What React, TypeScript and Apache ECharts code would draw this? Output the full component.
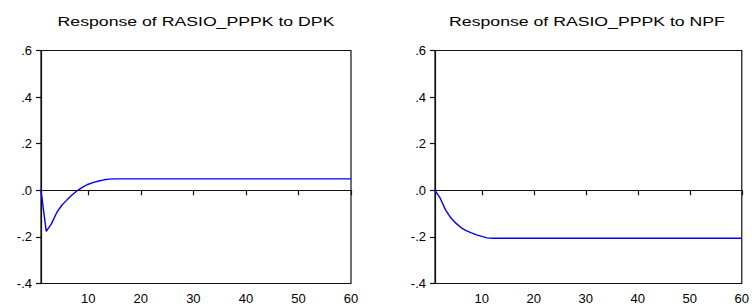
import React, { useEffect, useRef } from "react";
import * as echarts from "echarts";

const periods = [
  "1", "2", "3", "4", "5", "6", "7", "8", "9", "10",
  "11", "12", "13", "14", "15", "16", "17", "18", "19", "20",
  "21", "22", "23", "24", "25", "26", "27", "28", "29", "30",
  "31", "32", "33", "34", "35", "36", "37", "38", "39", "40",
  "41", "42", "43", "44", "45", "46", "47", "48", "49", "50",
  "51", "52", "53", "54", "55", "56", "57", "58", "59", "60",
];

const responseToDPK = [
  0.0, -0.176, -0.143, -0.095, -0.063, -0.04, -0.018, 0.0, 0.015, 0.026,
  0.034, 0.04, 0.045, 0.048, 0.049, 0.049, 0.049, 0.049, 0.049, 0.049,
  0.049, 0.049, 0.049, 0.049, 0.049, 0.049, 0.049, 0.049, 0.049, 0.049,
  0.049, 0.049, 0.049, 0.049, 0.049, 0.049, 0.049, 0.049, 0.049, 0.049,
  0.049, 0.049, 0.049, 0.049, 0.049, 0.049, 0.049, 0.049, 0.049, 0.049,
  0.049, 0.049, 0.049, 0.049, 0.049, 0.049, 0.049, 0.049, 0.049, 0.049,
];

const responseToNPF = [
  0.0, -0.034, -0.083, -0.117, -0.141, -0.16, -0.173, -0.183, -0.191, -0.198,
  -0.204, -0.206, -0.206, -0.206, -0.206, -0.206, -0.206, -0.206, -0.206, -0.206,
  -0.206, -0.206, -0.206, -0.206, -0.206, -0.206, -0.206, -0.206, -0.206, -0.206,
  -0.206, -0.206, -0.206, -0.206, -0.206, -0.206, -0.206, -0.206, -0.206, -0.206,
  -0.206, -0.206, -0.206, -0.206, -0.206, -0.206, -0.206, -0.206, -0.206, -0.206,
  -0.206, -0.206, -0.206, -0.206, -0.206, -0.206, -0.206, -0.206, -0.206, -0.206,
];

const panelTitles = ["Response of RASIO_PPPK to DPK", "Response of RASIO_PPPK to NPF"];
const yMin = -0.4;
const yMax = 0.6;
const yStep = 0.2;
const xLabelStep = 10;

const FONT = "'Liberation Sans', Arial, sans-serif";

function fmtY(v: number): string {
  const s = Math.abs(v).toFixed(1).replace(/^0/, "");
  return (v < -1e-9 ? "-" : "") + s;
}

export default function App() {
  const ref = useRef<HTMLDivElement>(null);
  useEffect(() => {
    if (!ref.current) return;
    const chart = echarts.init(ref.current, null, { renderer: "svg" });
    const grids = [
      { left: 41, right: 401, top: 50.5, bottom: 23.5 },
      { left: 435, right: 8, top: 50.5, bottom: 23.5 },
    ];
    const seriesData = [responseToDPK, responseToNPF];
    const titleCenters = [196, 587];
    chart.setOption({
      animation: false,
      backgroundColor: "#fff",
      grid: grids.map((g) => ({
        ...g,
        show: true,
        borderColor: "#111",
        borderWidth: 1.2,
        backgroundColor: "transparent",
        containLabel: false,
      })),
      xAxis: grids.map((_, i) => ({
        type: "category",
        gridIndex: i,
        data: periods,
        boundaryGap: false,
        axisLine: { show: true, lineStyle: { color: "#111", width: 1.2 } },
        axisTick: {
          show: true,
          inside: false,
          length: 5,
          interval: (idx: number, val: string) => Number(val) % xLabelStep === 0,
          lineStyle: { color: "#111", width: 1.2 },
        },
        axisLabel: {
          show: true,
          interval: (idx: number, val: string) => Number(val) % xLabelStep === 0,
          margin: 8,
          color: "#000",
          fontSize: 13,
          fontFamily: FONT,
        },
        splitLine: { show: false },
      })),
      yAxis: grids.map((_, i) => ({
        type: "value",
        gridIndex: i,
        min: yMin,
        max: yMax,
        interval: yStep,
        axisLine: { show: true, lineStyle: { color: "#111", width: 1.2 } },
        axisTick: { show: true, inside: false, length: 5, lineStyle: { color: "#111", width: 1.2 } },
        axisLabel: {
          show: true,
          margin: 9,
          color: "#000",
          fontSize: 13,
          fontFamily: FONT,
          formatter: (v: number) => fmtY(v),
        },
        splitLine: { show: false },
      })),
      series: seriesData.map((d, i) => ({
        type: "line",
        xAxisIndex: i,
        yAxisIndex: i,
        data: d,
        showSymbol: false,
        symbol: "none",
        lineStyle: { color: "#0000ff", width: 1.4 },
        z: 3,
        markLine: {
          silent: true,
          symbol: "none",
          label: { show: false },
          lineStyle: { color: "#111", width: 1.2, type: "solid" },
          data: [{ yAxis: 0 }],
          z: 2,
        },
      })),
      graphic: panelTitles.map((t, i) => ({
        type: "text",
        x: titleCenters[i],
        y: 21,
        scaleX: 1.36,
        style: {
          text: t,
          fill: "#000",
          font: `13px ${FONT}`,
          textAlign: "center",
          textVerticalAlign: "middle",
        },
      })),
    });
    return () => chart.dispose();
  }, []);
  return (
    <div
      ref={ref}
      style={{ position: "fixed", left: 0, top: 0, width: 752, height: 307 }}
    />
  );
}
